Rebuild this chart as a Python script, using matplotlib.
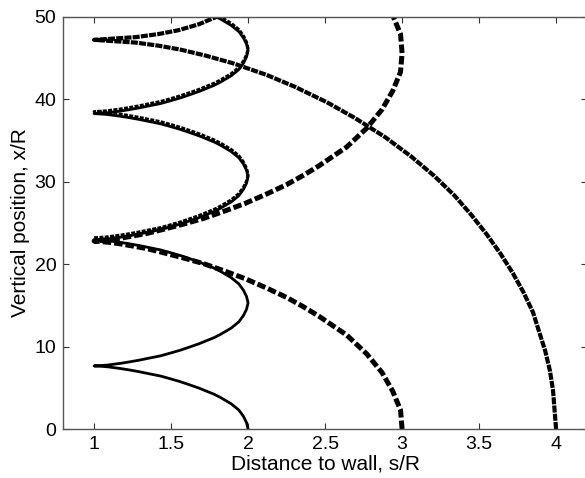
import numpy as np
import matplotlib
matplotlib.use("Agg")
import matplotlib.pyplot as plt

plt.rcParams['font.family'] = ['Liberation Sans', 'DejaVu Sans']

# trajectory starting at s/R = 2 (solid line), vertical position x/R and distance s/R
x_s2 = [0, 0.77, 1.53, 2.30, 3.06, 3.83, 4.21, 4.59, 4.97, 5.36, 5.74, 6.12, 6.43, 6.73, 6.96, 7.19, 7.34, 7.46, 7.54, 7.60, 7.65,
        7.70, 7.76, 7.84, 7.96, 8.11, 8.34, 8.57, 8.87, 9.18, 9.56, 9.94, 10.33, 10.71, 11.09, 11.47, 12.24, 13.00, 13.77, 14.53, 15.30,
        16.07, 16.83, 17.60, 18.36, 19.13, 19.51, 19.89, 20.27, 20.66, 21.04, 21.42, 21.73, 22.03, 22.26, 22.49, 22.64, 22.76, 22.84, 22.90, 22.95,
        23.00, 23.06, 23.14, 23.26, 23.41, 23.64, 23.87, 24.17, 24.48, 24.86, 25.24, 25.63, 26.01, 26.39, 26.77, 27.54, 28.30, 29.07, 29.83, 30.60,
        31.37, 32.13, 32.90, 33.66, 34.43, 34.81, 35.19, 35.57, 35.96, 36.34, 36.72, 37.03, 37.33, 37.56, 37.79, 37.94, 38.06, 38.14, 38.20, 38.25,
        38.30, 38.36, 38.44, 38.56, 38.71, 38.94, 39.17, 39.47, 39.78, 40.16, 40.54, 40.93, 41.31, 41.69, 42.07, 42.84, 43.60, 44.37, 45.13, 45.90,
        46.67, 47.43, 48.20, 48.96, 49.73, 50.11]
s_s2 = [2.00, 1.99, 1.97, 1.94, 1.89, 1.82, 1.78, 1.73, 1.68, 1.62, 1.56, 1.49, 1.43, 1.35, 1.29, 1.22, 1.17, 1.12, 1.09, 1.05, 1.00,
        1.05, 1.09, 1.12, 1.17, 1.22, 1.29, 1.35, 1.43, 1.49, 1.56, 1.62, 1.68, 1.73, 1.78, 1.82, 1.89, 1.94, 1.97, 1.99, 2.00,
        1.99, 1.97, 1.94, 1.89, 1.82, 1.78, 1.73, 1.68, 1.62, 1.56, 1.49, 1.43, 1.35, 1.29, 1.22, 1.17, 1.12, 1.09, 1.05, 1.00,
        1.05, 1.09, 1.12, 1.17, 1.22, 1.29, 1.35, 1.43, 1.49, 1.56, 1.62, 1.68, 1.73, 1.78, 1.82, 1.89, 1.94, 1.97, 1.99, 2.00,
        1.99, 1.97, 1.94, 1.89, 1.82, 1.78, 1.73, 1.68, 1.62, 1.56, 1.49, 1.43, 1.35, 1.29, 1.22, 1.17, 1.12, 1.09, 1.05, 1.00,
        1.05, 1.09, 1.12, 1.17, 1.22, 1.29, 1.35, 1.43, 1.49, 1.56, 1.62, 1.68, 1.73, 1.78, 1.82, 1.89, 1.94, 1.97, 1.99, 2.00,
        1.99, 1.97, 1.94, 1.89, 1.82, 1.78]

# branch lying close to the s/R = 2 orbit after the wall contact near x/R = 23
x_s2b = [23.20,
         23.25, 23.31, 23.39, 23.51, 23.66, 23.89, 24.12, 24.42, 24.73, 25.11, 25.49, 25.88, 26.26, 26.64, 27.02, 27.79, 28.55, 29.32, 30.08, 30.85,
         31.62, 32.38, 33.15, 33.91, 34.68, 35.06, 35.44, 35.82, 36.21, 36.59, 36.97, 37.28, 37.58, 37.81, 38.04, 38.19, 38.31, 38.39, 38.45, 38.50,
         38.55, 38.61, 38.69, 38.81, 38.96, 39.19, 39.42, 39.72, 40.03, 40.41, 40.79, 41.18, 41.56, 41.94, 42.32, 43.09, 43.85, 44.62, 45.38, 46.15,
         46.92, 47.68, 48.45, 49.21, 49.98, 50.36]
s_s2b = [1.00,
         1.05, 1.09, 1.12, 1.17, 1.22, 1.29, 1.35, 1.43, 1.49, 1.56, 1.62, 1.68, 1.73, 1.78, 1.82, 1.89, 1.94, 1.97, 1.99, 2.00,
         1.99, 1.97, 1.94, 1.89, 1.82, 1.78, 1.73, 1.68, 1.62, 1.56, 1.49, 1.43, 1.35, 1.29, 1.22, 1.17, 1.12, 1.09, 1.05, 1.00,
         1.05, 1.09, 1.12, 1.17, 1.22, 1.29, 1.35, 1.43, 1.49, 1.56, 1.62, 1.68, 1.73, 1.78, 1.82, 1.89, 1.94, 1.97, 1.99, 2.00,
         1.99, 1.97, 1.94, 1.89, 1.82, 1.78]

# trajectory starting at s/R = 3 (dashed line)
x_s3 = [0, 2.28, 4.56, 6.84, 9.12, 11.40, 12.54, 13.68, 14.82, 15.96, 17.10, 18.24, 19.15, 20.06, 20.75, 21.43, 21.89, 22.23, 22.46, 22.64, 22.80,
        22.96, 23.14, 23.37, 23.71, 24.17, 24.85, 25.54, 26.45, 27.36, 28.50, 29.64, 30.78, 31.92, 33.06, 34.20, 36.48, 38.76, 41.04, 43.32, 45.60,
        47.88, 50.16, 52.44]
s_s3 = [3.00, 2.99, 2.94, 2.87, 2.77, 2.64, 2.55, 2.46, 2.36, 2.25, 2.12, 1.98, 1.85, 1.71, 1.58, 1.44, 1.34, 1.24, 1.17, 1.10, 1.00,
        1.10, 1.17, 1.24, 1.34, 1.44, 1.58, 1.71, 1.85, 1.98, 2.12, 2.25, 2.36, 2.46, 2.55, 2.64, 2.77, 2.87, 2.94, 2.99, 3.00,
        2.99, 2.94, 2.87]

# trajectory starting at s/R = 4 (dotted line)
x_s4 = [0, 4.72, 7.08, 9.44, 11.80, 14.16, 16.52, 18.88, 21.24, 23.60, 25.96, 28.32, 30.68, 33.04, 35.40, 37.76, 39.65, 41.54, 42.95, 44.37,
        45.31, 46.02, 46.49, 46.87, 47.20,
        47.53, 47.91, 48.38, 49.09, 50.03, 51.45]
s_s4 = [4.00, 3.98, 3.96, 3.93, 3.89, 3.85, 3.79, 3.72, 3.64, 3.55, 3.45, 3.34, 3.21, 3.06, 2.89, 2.69, 2.51, 2.30, 2.12, 1.90,
        1.72, 1.56, 1.42, 1.27, 1.00,
        1.27, 1.42, 1.55, 1.68, 1.80, 1.98]

fig = plt.figure(figsize=(5.85, 4.78), dpi=100)
ax = fig.add_axes([0.1082, 0.1025, 0.895, 0.8624])

ax.plot(s_s2, x_s2, color='black', lw=2.0)
ax.plot(s_s2b, x_s2b, color='black', lw=2.2, dashes=(1.3, 0.45))
ax.plot(s_s3, x_s3, color='black', lw=3.6, dashes=(1.7, 0.6))
ax.plot(s_s4, x_s4, color='black', lw=3.0, dashes=(1.7, 0.28))

ax.set_xlim(0.8, 4.2)
ax.set_ylim(0, 50)
ax.set_xticks([1, 1.5, 2, 2.5, 3, 3.5, 4])
ax.set_xticklabels(['1', '1.5', '2', '2.5', '3', '3.5', '4'])
ax.set_yticks([0, 10, 20, 30, 40, 50])
ax.tick_params(direction='in', length=4, width=0.8, top=True, right=True,
               labelsize=14, pad=5, colors='#333333', labelcolor='black')
for sp in ax.spines.values():
    sp.set_color('#555555')
    sp.set_linewidth(1.0)

ax.set_xlabel('Distance to wall, s/R', fontsize=15, labelpad=1)
ax.set_ylabel('Vertical position, x/R', fontsize=15, labelpad=3)

fig.savefig('out.png', dpi=100)
